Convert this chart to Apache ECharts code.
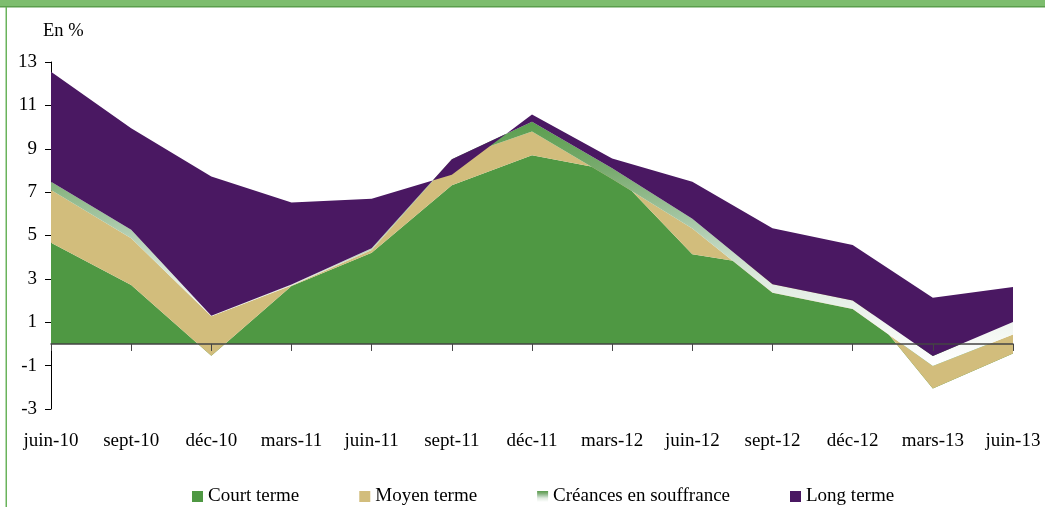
<!DOCTYPE html>
<html>
<head>
<meta charset="utf-8">
<script src="https://cdn.jsdelivr.net/npm/echarts@6/dist/echarts.min.js"></script>
<style>
html,body{margin:0;padding:0;background:#fff;}
#c{width:1045px;height:507px;}
</style>
</head>
<body>
<div id="c"></div>
<script>
const categories = ['juin-10','sept-10','déc-10','mars-11','juin-11','sept-11','déc-11','mars-12','juin-12','sept-12','déc-12','mars-13','juin-13'];
const courtTerme = [4.67, 2.72, -0.55, 2.67, 4.21, 7.32, 8.70, 8.00, 4.13, 3.55, 2.48, -2.05, -0.44];
const moyenTerme = [2.43, 2.15, 1.83, 0.03, 0.12, 1.18, 1.10, -0.40, 1.19, -1.19, -0.87, 1.03, 0.88];
const creances   = [0.38, 0.39, 0.02, 0.04, 0.08, 0.02, 0.44, 0.50, 0.45, 0.39, 0.39, 0.46, 0.57];
const longTerme  = [5.07, 4.69, 6.42, 3.78, 2.29, -0.72, 0.34, 0.45, 1.71, 2.58, 2.56, 2.69, 1.61];
const yTicks = [-3, -1, 1, 3, 5, 7, 9, 11, 13];

const FONT = 'Liberation Serif';
const FS = 19;
const chart = echarts.init(document.getElementById('c'), null, {renderer: 'canvas'});
const creGrad = new echarts.graphic.LinearGradient(0, 0, 0, 1, [
  {offset: 0, color: '#5a9e4e'},
  {offset: 0.2, color: '#7aab70'},
  {offset: 0.42, color: '#a9c9a9'},
  {offset: 0.65, color: '#e0ebe0'},
  {offset: 1, color: '#ffffff'}
]);
function areaSeries(name, data, color) {
  return {
    name: name, type: 'line', data: data,
    stack: 'total', stackStrategy: 'all',
    symbol: 'none', showSymbol: false,
    lineStyle: {width: 0, opacity: 0},
    areaStyle: {color: color, opacity: 1},
    itemStyle: {color: color},
    emphasis: {disabled: true},
    xAxisIndex: 0, yAxisIndex: 0
  };
}
chart.setOption({
  animation: false,
  backgroundColor: '#ffffff',
  textStyle: {fontFamily: FONT},
  graphic: [
    {type: 'rect', shape: {x: 0, y: 0, width: 1045, height: 6}, style: {fill: '#7dbd6e'}, silent: true},
    {type: 'rect', shape: {x: 0, y: 6, width: 1045, height: 1.5}, style: {fill: '#5a9e4c'}, silent: true},
    {type: 'rect', shape: {x: 5.5, y: 7, width: 1.5, height: 500}, style: {fill: '#6ab35c'}, silent: true},
    {type: 'text', left: 43, top: 22, style: {text: 'En %', fontFamily: FONT, fontSize: 18.5, fill: '#000'}, silent: true}
  ],
  grid: {left: 51, right: 32, top: 62, bottom: 98, containLabel: false},
  legend: {
    left: 187, top: 482,
    icon: 'rect', itemWidth: 11, itemHeight: 11, itemGap: 60,
    textStyle: {fontFamily: FONT, fontSize: FS, color: '#000'},
    selectedMode: false,
    data: ['Court terme', 'Moyen terme', 'Créances en souffrance', 'Long terme']
  },
  xAxis: [
    {
      type: 'category', data: categories, boundaryGap: false,
      axisLine: {onZero: true, lineStyle: {color: '#444', width: 1.5}},
      axisTick: {show: true, inside: false, length: 7, alignWithLabel: true, lineStyle: {color: '#444'}},
      axisLabel: {show: false},
      splitLine: {show: false},
      z: 10
    },
    {
      type: 'category', data: categories, boundaryGap: false, position: 'bottom',
      axisLine: {show: false, onZero: false},
      axisTick: {show: false},
      axisLabel: {show: true, margin: 23, fontFamily: FONT, fontSize: FS, color: '#000', interval: 0},
      splitLine: {show: false}
    }
  ],
  yAxis: {
    type: 'value', min: -3, max: 13, interval: 2,
    axisLine: {show: true, onZero: false, lineStyle: {color: '#000', width: 1}},
    axisTick: {show: true, length: 6, lineStyle: {color: '#000'}},
    axisLabel: {margin: 14, fontFamily: FONT, fontSize: FS, color: '#000',
      formatter: function (v) { return yTicks.indexOf(v) >= 0 ? String(v) : ''; }},
    splitLine: {show: false}
  },
  series: [
    areaSeries('Court terme', courtTerme, '#4f9843'),
    areaSeries('Moyen terme', moyenTerme, '#d2bd7c'),
    areaSeries('Créances en souffrance', creances, creGrad),
    areaSeries('Long terme', longTerme, '#4a1862')
  ]
});
</script>
</body>
</html>
